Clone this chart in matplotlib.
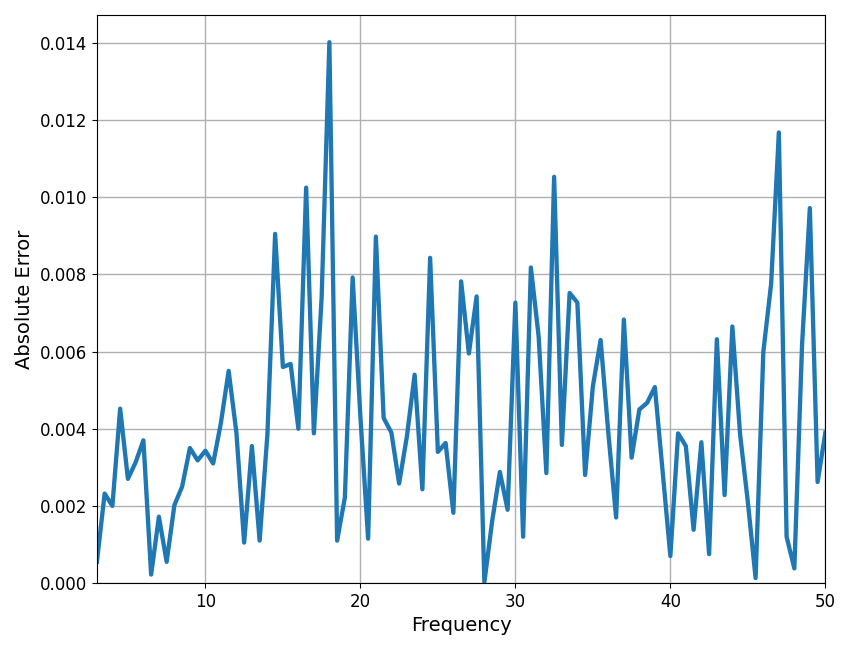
import numpy as np
import matplotlib
matplotlib.use("Agg")
import matplotlib.pyplot as plt

# frequencies from 3 to 50 in steps of 0.5
frequency = np.arange(3.0, 50.5, 0.5)
abs_error = [
    0.00055, 0.00232, 0.00200, 0.00452, 0.00270, 0.00313, 0.00370, 0.00022,
    0.00172, 0.00055, 0.00202, 0.00250, 0.00350, 0.00318, 0.00343, 0.00310,
    0.00415, 0.00550, 0.00390, 0.00105, 0.00355, 0.00110, 0.00385, 0.00905,
    0.00560, 0.00568, 0.00400, 0.01025, 0.00388, 0.00740, 0.01402, 0.00110,
    0.00222, 0.00792, 0.00432, 0.00115, 0.00898, 0.00428, 0.00390, 0.00258,
    0.00380, 0.00540, 0.00243, 0.00843, 0.00340, 0.00363, 0.00182, 0.00782,
    0.00595, 0.00743, 0.00002, 0.00160, 0.00288, 0.00190, 0.00727, 0.00120,
    0.00818, 0.00640, 0.00285, 0.01053, 0.00358, 0.00752, 0.00727, 0.00280,
    0.00510, 0.00630, 0.00388, 0.00170, 0.00683, 0.00325, 0.00450, 0.00467,
    0.00508, 0.00290, 0.00070, 0.00388, 0.00355, 0.00138, 0.00365, 0.00075,
    0.00632, 0.00228, 0.00665, 0.00385, 0.00210, 0.00013, 0.00600, 0.00775,
    0.01168, 0.00120, 0.00038, 0.00620, 0.00972, 0.00262, 0.00390,
]


def main():
    fig, ax = plt.subplots(figsize=(8.5, 6.5), dpi=100)
    ax.plot(frequency, abs_error, color="#1f77b4", linewidth=3.1)
    ax.set_xlim(3, 50)
    ax.set_ylim(0, 0.014726)
    ax.set_xlabel("Frequency", fontsize=14)
    ax.set_ylabel("Absolute Error", fontsize=14)
    ax.tick_params(labelsize=12)
    ax.grid(True, color="#b0b0b0", linewidth=1)
    fig.subplots_adjust(left=0.114, right=0.971, top=0.977, bottom=0.103)
    fig.savefig("out.png")
    plt.close(fig)


if __name__ == "__main__":
    main()
